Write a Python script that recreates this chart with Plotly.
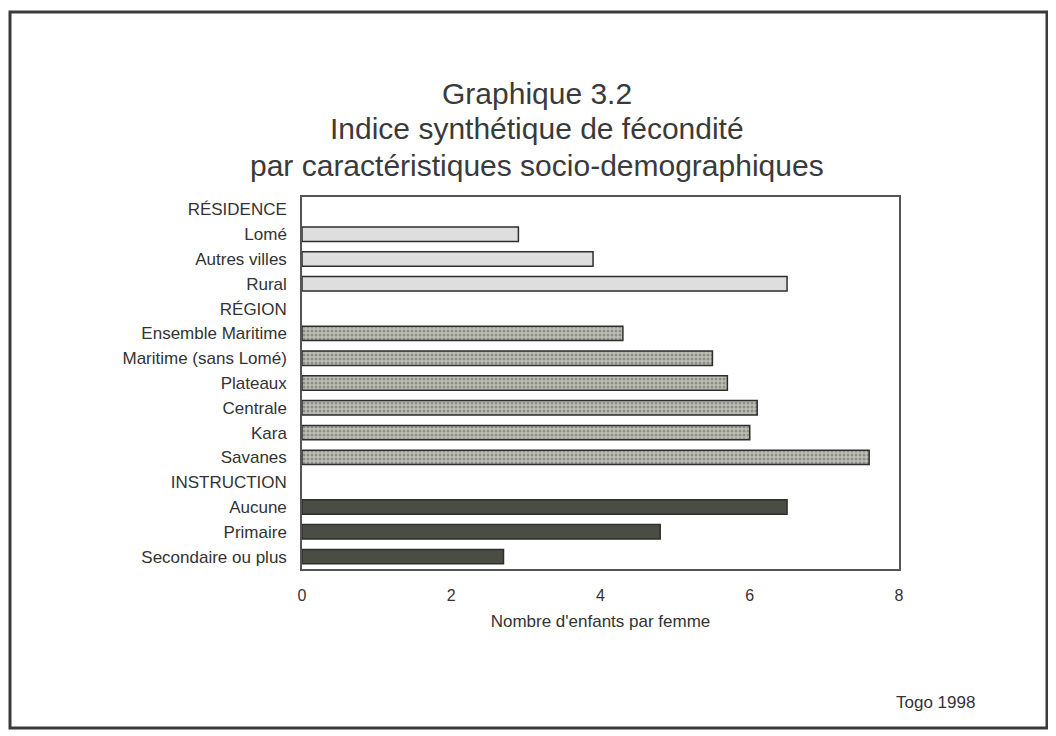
"""Togo 1998: total fertility rate by socio-demographic characteristics."""

import plotly.graph_objects as go

# Category rows, top to bottom (section headers carry no bar)
categories = [
    "RÉSIDENCE", "Lomé", "Autres villes", "Rural",
    "RÉGION", "Ensemble Maritime", "Maritime (sans Lomé)", "Plateaux",
    "Centrale", "Kara", "Savanes",
    "INSTRUCTION", "Aucune", "Primaire", "Secondaire ou plus",
]

residence_labels = ["Lomé", "Autres villes", "Rural"]
residence_values = [2.9, 3.9, 6.5]

region_labels = ["Ensemble Maritime", "Maritime (sans Lomé)", "Plateaux",
                 "Centrale", "Kara", "Savanes"]
region_values = [4.3, 5.5, 5.7, 6.1, 6.0, 7.6]

instruction_labels = ["Aucune", "Primaire", "Secondaire ou plus"]
instruction_values = [6.5, 4.8, 2.7]

x_ticks = [0, 2, 4, 6, 8]

W, H = 1056, 736
OFF = 8  # page body margin in the browser
# plot area in page pixels: x 302..899, y 197..569
M = {"l": 302 - OFF, "r": W - (899 - OFF), "t": 197 - OFF, "b": H - (569 - OFF)}
FONT = "Liberation Sans, Arial, sans-serif"
TXT = "#333333"
OUTLINE = "#2e2e2e"

pw = W - M["l"] - M["r"]
ph = H - M["t"] - M["b"]


def px_x(px):
    return (px - OFF - M["l"]) / pw


def px_y(py):
    return (H - M["b"] - (py - OFF)) / ph


fig = go.Figure()

fig.add_trace(go.Bar(
    y=residence_labels, x=residence_values, orientation="h", width=0.58,
    marker={"color": "#dedede", "line": {"color": OUTLINE, "width": 1.5}},
    hoverinfo="x+y", showlegend=False,
))
fig.add_trace(go.Bar(
    y=region_labels, x=region_values, orientation="h", width=0.58,
    marker={
        "color": "#aeb0a8",
        "line": {"color": OUTLINE, "width": 1.5},
        "pattern": {"shape": ".", "fgcolor": "#595c54", "bgcolor": "#bfc1b9",
                    "size": 4, "solidity": 0.45},
    },
    hoverinfo="x+y", showlegend=False,
))
fig.add_trace(go.Bar(
    y=instruction_labels, x=instruction_values, orientation="h", width=0.58,
    marker={"color": "#4a4d44", "line": {"color": OUTLINE, "width": 1.5}},
    hoverinfo="x+y", showlegend=False,
))

# title lines
for text, ypx in [("Graphique 3.2", 93),
                  ("Indice synthétique de fécondité", 129),
                  ("par caractéristiques socio-demographiques", 165)]:
    fig.add_annotation(
        text=text, xref="paper", yref="paper", x=px_x(537), y=px_y(ypx),
        showarrow=False, xanchor="center", yanchor="middle",
        font={"family": FONT, "size": 30, "color": "#3a3a3a"},
    )

fig.add_annotation(
    text="Togo 1998", xref="paper", yref="paper", x=px_x(935), y=px_y(702),
    showarrow=False, xanchor="center", yanchor="middle",
    font={"family": FONT, "size": 17, "color": TXT},
)

# outer frame of the page
fig.add_shape(
    type="rect", xref="paper", yref="paper",
    x0=px_x(10), x1=px_x(1047), y0=px_y(728), y1=px_y(12),
    line={"color": "#3a3a3a", "width": 3},
)

fig.update_layout(
    width=W, height=H,
    margin=M,
    barmode="overlay",
    paper_bgcolor="white",
    plot_bgcolor="white",
    font={"family": FONT, "color": TXT},
    xaxis={
        "range": [0, 8],
        "tickvals": x_ticks,
        "showgrid": False,
        "zeroline": False,
        "showline": True,
        "mirror": True,
        "linecolor": "#555555",
        "linewidth": 1.5,
        "ticks": "",
        "ticklabelstandoff": 11,
        "tickfont": {"size": 16, "color": TXT},
        "title": {"text": "Nombre d'enfants par femme", "standoff": 12,
                  "font": {"size": 17, "color": TXT}},
    },
    yaxis={
        "type": "category",
        "categoryorder": "array",
        "categoryarray": categories,
        "range": [len(categories) - 0.5, -0.5],
        "showgrid": False,
        "zeroline": False,
        "showline": True,
        "mirror": True,
        "linecolor": "#555555",
        "linewidth": 1.5,
        "ticks": "",
        "ticklabelstandoff": 10,
        "tickfont": {"size": 17, "color": TXT},
    },
)

fig.write_html("out.html")
